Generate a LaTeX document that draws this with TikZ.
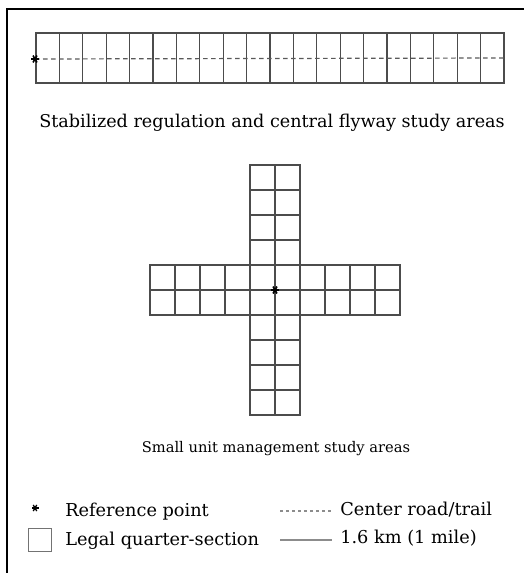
\documentclass[tikz,border=0pt]{standalone}
\usepackage{fontspec}
\setmainfont{DejaVu Serif}
\usetikzlibrary{calc}
\begin{document}
\begin{tikzpicture}[x=0.75pt,y=-0.75pt,
  gridline/.style={draw=black!70,line width=0.9pt},
  frameline/.style={draw=black,line width=1.6pt},
  road/.style={draw=black!65,line width=0.9pt,dash pattern=on 3.5pt off 2.5pt},
  legroad/.style={draw=black!45,line width=0.8pt,dash pattern=on 2.5pt off 2pt},
  legmile/.style={draw=black!45,line width=0.9pt},
  caption/.style={inner sep=0pt},
  legtext/.style={font=\fontsize{13.3}{15}\selectfont,inner sep=0pt,anchor=west},
  star/.style={draw=black,line width=1.2pt}]
\useasboundingbox (0,0) rectangle (524,573);
% frame (left and top edges)
\draw[frameline] (7,573) -- (7,9) -- (524,9);
% strip grid
\draw[gridline] (36,33) rectangle (504,83);
\foreach \i in {1,...,19} {\draw[gridline] ({36+23.4*\i},33) -- ({36+23.4*\i},83);}
\coordinate (sref) at (35,59);
\coordinate (send) at (504,58);
\draw[road] (sref) -- (send);
\foreach \a in {0,60,120} {\draw[star] ($(sref)+(\a:4)$) -- ($(sref)+(\a+180:4)$);}
\node[caption,font=\fontsize{13.2}{15}\selectfont] (cap1) at (272,123) {Stabilized regulation and central flyway study areas};
% cross grid
\draw[gridline] (250,165) rectangle (300,415);
\draw[gridline] (150,265) rectangle (400,315);
\foreach \j in {1,...,9} {\draw[gridline] (250,{165+25*\j}) -- (300,{165+25*\j});}
\draw[gridline] (275,165) -- (275,415);
\foreach \i in {1,...,9} {\draw[gridline] ({150+25*\i},265) -- ({150+25*\i},315);}
\draw[gridline] (150,290) -- (400,290);
\coordinate (cref) at (275,290);
\foreach \a in {0,60,120} {\draw[star] ($(cref)+(\a:4)$) -- ($(cref)+(\a+180:4)$);}
\node[caption,font=\fontsize{11}{13}\selectfont] (cap2) at (276,449) {Small unit management study areas};
% legend
\coordinate (lstar) at (35,508);
\foreach \a in {0,60,120} {\draw[star,line width=1pt] ($(lstar)+(\a:3.5)$) -- ($(lstar)+(\a+180:3.5)$);}
\node[legtext] (lref) at (65,512) {Reference point};
\node[draw=black!55,line width=0.9pt,minimum size=17.5pt,inner sep=0pt] (lsq) at (40,540) {};
\node[legtext] (lquar) at (65,541) {Legal quarter-section};
\coordinate (rd1) at (280,511);
\coordinate (rd2) at (331,511);
\draw[legroad] (rd1) -- (rd2);
\node[legtext] (lroad) at (340,510) {Center road/trail};
\coordinate (ml1) at (280,540);
\coordinate (ml2) at (332,540);
\draw[legmile] (ml1) -- (ml2);
\node[legtext] (lmile) at (340,538) {1.6 km (1 mile)};
\end{tikzpicture}
\end{document}
